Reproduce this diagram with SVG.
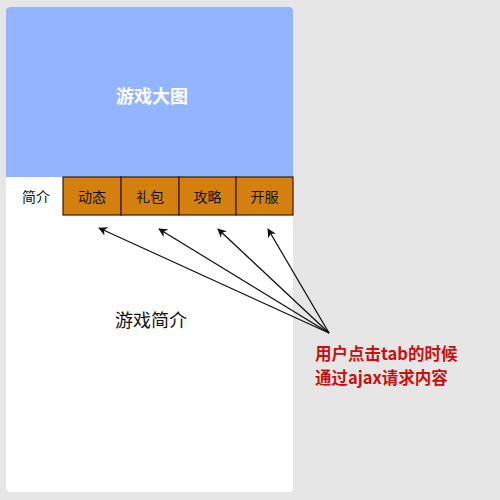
<svg xmlns="http://www.w3.org/2000/svg" width="500" height="500" viewBox="0 0 500 500">
<defs>
<style>
.t{font-family:"Noto Sans CJK SC","Noto Sans",sans-serif;}
.tab{fill:#d4800f;stroke:#3a1a00;stroke-width:1.2;}
.tl{font-size:14px;fill:#111;text-anchor:middle;}
.ar{stroke:#111;stroke-width:1.3;fill:none;marker-end:url(#ah);}
.note{font-size:16.5px;font-weight:bold;fill:#c81010;}
</style>
<marker id="ah" viewBox="0 0 10 10" refX="9" refY="5" markerWidth="9" markerHeight="9" markerUnits="userSpaceOnUse" orient="auto">
<path d="M0,0 L10,5 L0,10 L3,5 Z" fill="#111"/>
</marker>
</defs>
<rect width="500" height="500" fill="#e6e6e6"/>
<g id="panel">
<rect x="6" y="7" width="287" height="485" rx="4" fill="#ffffff"/>
</g>
<g id="banner">
<path d="M10,7 H289 A4,4 0 0 1 293,11 V177 H6 V11 A4,4 0 0 1 10,7 Z" fill="#93b4ff"/>
<text class="t" x="152" y="103" font-size="18" font-weight="bold" fill="#ffffff" text-anchor="middle">游戏大图</text>
</g>
<g id="tab-intro">
<text class="t tl" x="36" y="202">简介</text>
</g>
<g id="tab-news">
<rect class="tab" x="63" y="177" width="58" height="38"/>
<text class="t tl" x="92" y="202">动态</text>
</g>
<g id="tab-gift">
<rect class="tab" x="121" y="177" width="58" height="38"/>
<text class="t tl" x="150" y="202">礼包</text>
</g>
<g id="tab-guide">
<rect class="tab" x="179" y="177" width="57" height="38"/>
<text class="t tl" x="207.5" y="202">攻略</text>
</g>
<g id="tab-server">
<rect class="tab" x="236" y="177" width="57" height="38"/>
<text class="t tl" x="264.5" y="202">开服</text>
</g>
<g id="content">
<text class="t" x="151" y="327" font-size="18" fill="#111" text-anchor="middle">游戏简介</text>
</g>
<g id="connectors">
<line class="ar" x1="329" y1="333" x2="99" y2="228"/>
<line class="ar" x1="329" y1="333" x2="159" y2="229"/>
<line class="ar" x1="329" y1="333" x2="218" y2="229"/>
<line class="ar" x1="329" y1="333" x2="268" y2="229"/>
</g>
<g id="note">
<text class="t note" x="315" y="360">用户点击tab的时候</text>
<text class="t note" x="315" y="384">通过ajax请求内容</text>
</g>
</svg>
